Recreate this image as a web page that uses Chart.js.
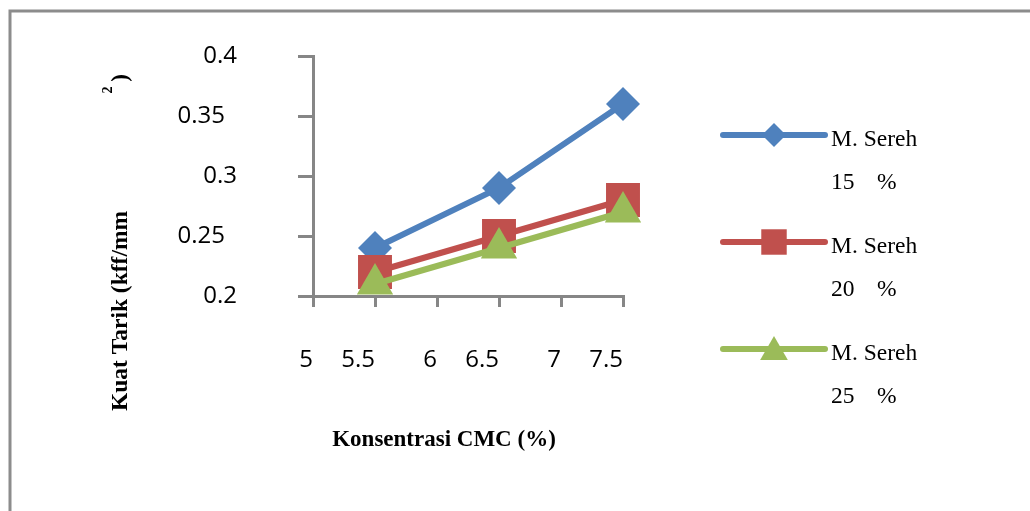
<!DOCTYPE html>
<html>
<head>
<meta charset="utf-8">
<script src="https://cdn.jsdelivr.net/npm/chart.js@4.4.1/dist/chart.umd.min.js"></script>
<style>
  body { margin: 0; background: #fff; }
  #wrap { width: 1030px; height: 511px; position: relative; }
</style>
</head>
<body>
<div id="wrap"><canvas id="myChart"></canvas></div>
<script>
// data
const cmc = [5.5, 6.5, 7.5];
const sereh15 = [0.24, 0.29, 0.36];
const sereh20 = [0.22, 0.25, 0.28];
const sereh25 = [0.21, 0.24, 0.27];
const seriesNames = ['M. Sereh', 'M. Sereh', 'M. Sereh'];
const seriesPct = ['15', '20', '25'];
const xTicks = [5, 5.5, 6, 6.5, 7, 7.5];
const yTicks = [0.2, 0.25, 0.3, 0.35, 0.4];
const xTitle = 'Konsentrasi CMC (%)';
const yTitle = 'Kuat Tarik (kff/mm';

const axisGray = '#868686';
const tickFont = { family: 'Open Sans', size: 24 };

function pts(vals) {
  return cmc.map((x, i) => ({ x: x, y: vals[i] }));
}

// titles, frame and legend are drawn by hand, the layout of the original is odd
const extras = {
  id: 'extras',
  afterDraw(chart) {
    const ctx = chart.ctx;
    ctx.save();
    // frame
    ctx.strokeStyle = '#8c8c8c';
    ctx.lineWidth = 3;
    ctx.beginPath();
    ctx.moveTo(10, 511);
    ctx.lineTo(10, 11);
    ctx.lineTo(1030, 11);
    ctx.stroke();

    ctx.fillStyle = '#000';
    // x title
    ctx.font = 'bold 23px "Liberation Serif"';
    ctx.textAlign = 'center';
    ctx.textBaseline = 'middle';
    ctx.fillText(xTitle, 444, 440);

    // y title, rotated
    ctx.save();
    ctx.translate(121, 311);
    ctx.rotate(-Math.PI / 2);
    ctx.font = 'bold 23.5px "Liberation Serif"';
    ctx.fillText(yTitle, 0, 0);
    ctx.restore();
    ctx.save();
    ctx.translate(108, 90);
    ctx.rotate(-Math.PI / 2);
    ctx.font = 'bold 14px "Liberation Serif"';
    ctx.fillText('2', 0, 0);
    ctx.restore();
    ctx.save();
    ctx.translate(121, 78);
    ctx.rotate(-Math.PI / 2);
    ctx.fillText(')', 0, 0);
    ctx.restore();

    // legend
    const legendOrder = [0, 1, 2];
    legendOrder.forEach((di, i) => {
      const ds = chart.data.datasets[di];
      const y = 135 + i * 107;
      ctx.strokeStyle = ds.borderColor;
      ctx.fillStyle = ds.borderColor;
      ctx.lineWidth = 6;
      ctx.lineCap = 'round';
      ctx.beginPath();
      ctx.moveTo(723, y);
      ctx.lineTo(825, y);
      ctx.stroke();
      const r = ds.pointStyle === 'rectRot' ? 12 : (ds.pointStyle === 'rect' ? 18 : 16);
      Chart.helpers.drawPoint(ctx, { pointStyle: ds.pointStyle, rotation: 0, radius: r, borderWidth: 0 }, 774, ds.pointStyle === 'triangle' ? y + 3 : y);
      ctx.fillStyle = '#000';
      ctx.font = '23.5px "Liberation Serif"';
      ctx.textAlign = 'left';
      ctx.textBaseline = 'middle';
      ctx.fillText(seriesNames[di], 831, y + 5);
      ctx.fillText(seriesPct[di], 831, y + 48);
      ctx.fillText('%', 877, y + 48);
    });
    ctx.restore();
  }
};

const ctx = document.getElementById('myChart').getContext('2d');
const chart = new Chart(ctx, {
  type: 'line',
  data: {
    datasets: [
      {
        label: 'M. Sereh 15 %',
        data: pts(sereh15),
        borderColor: '#4F81BD',
        backgroundColor: '#4F81BD',
        borderWidth: 6,
        pointStyle: 'rectRot',
        pointRadius: 17,
        pointHoverRadius: 17,
        pointBorderWidth: 0,
        order: 3,
        clip: false
      },
      {
        label: 'M. Sereh 20 %',
        data: pts(sereh20),
        borderColor: '#C0504D',
        backgroundColor: '#C0504D',
        borderWidth: 6,
        pointStyle: 'rect',
        pointRadius: 24,
        pointHoverRadius: 24,
        pointBorderWidth: 0,
        order: 2,
        clip: false
      },
      {
        label: 'M. Sereh 25 %',
        data: pts(sereh25),
        borderColor: '#9BBB59',
        backgroundColor: '#9BBB59',
        borderWidth: 6,
        pointStyle: 'triangle',
        pointRadius: 21,
        pointHoverRadius: 21,
        pointBorderWidth: 0,
        order: 1,
        clip: false
      }
    ]
  },
  options: {
    responsive: true,
    maintainAspectRatio: false,
    animation: false,
    layout: { padding: { left: 113, right: 407, top: 56, bottom: 115 } },
    plugins: {
      legend: { display: false },
      tooltip: { enabled: false }
    },
    scales: {
      x: {
        type: 'linear',
        min: 5,
        max: 7.5,
        afterBuildTicks: (s) => { s.ticks = xTicks.map(v => ({ value: v })); },
        afterFit: (s) => { s.height = 100; },
        grid: { drawOnChartArea: false, tickLength: 11, color: axisGray, lineWidth: 3 },
        border: { color: axisGray, width: 3 },
        ticks: {
          align: 'end',
          padding: 39,
          color: '#000',
          font: tickFont,
          maxRotation: 0,
          autoSkip: false,
          callback: (v) => String(v)
        }
      },
      y: {
        min: 0.2,
        max: 0.4,
        afterBuildTicks: (s) => { s.ticks = yTicks.map(v => ({ value: v })); },
        // big tick padding would otherwise push the plot top down
        afterFit: (s) => { s.width = 200; s.paddingTop = 14; s.paddingBottom = 14; },
        grid: { drawOnChartArea: false, tickLength: 15, color: axisGray, lineWidth: 3 },
        border: { color: axisGray, width: 3 },
        ticks: {
          padding: 61,
          color: '#000',
          font: tickFont,
          autoSkip: false,
          // two-decimal labels sit a little further left in the original
          callback: (v) => String(v).length > 3 ? String(v) + '\u2002' : String(v)
        }
      }
    }
  },
  plugins: [extras]
});
</script>
</body>
</html>
